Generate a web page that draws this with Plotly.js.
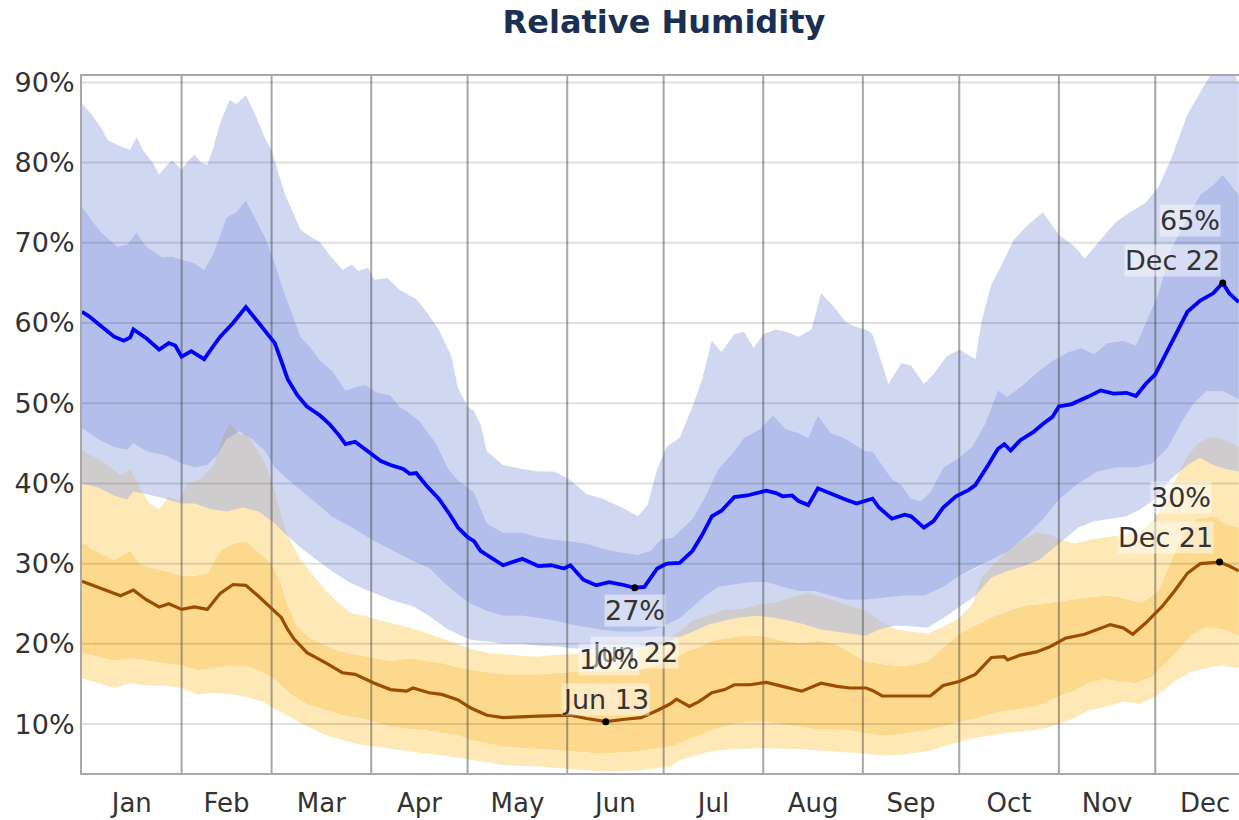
<!DOCTYPE html>
<html><head><meta charset="utf-8">
<script src="https://cdn.plot.ly/plotly-3.0.1.min.js"></script>
<style>html,body{margin:0;padding:0;overflow:hidden;background:#fff}#chart{width:1252px;height:820px}</style>
</head><body><div id="chart"></div>
<script>
// ---- data (day of year, Jan 1 = 0) ----
const monthNames = ['Jan','Feb','Mar','Apr','May','Jun','Jul','Aug','Sep','Oct','Nov','Dec'];
const monthStarts = [0,31,59,90,120,151,181,212,243,273,304,334,365];
const yTicks = [10,20,30,40,50,60,70,80,90];

const blueMedian = [[0,61.4],[2,60.9],[6,59.6],[10,58.3],[13,57.8],[15,58.2],[16,59.2],[20,58.1],[24,56.7],[27,57.5],[29,57.2],[31,55.8],[34,56.5],[38,55.5],[41,57.2],[43,58.3],[47,60.0],[51,62.0],[55,60.0],[60,57.5],[62,55.3],[64,53.0],[67,51.0],[70,49.6],[74,48.5],[77,47.4],[80,46.0],[82,44.9],[85,45.2],[88,44.3],[91,43.4],[93,42.8],[96,42.3],[100,41.8],[102,41.2],[104,41.3],[107,39.8],[111,38.1],[114,36.4],[117,34.5],[120,33.3],[122,32.8],[124,31.6],[127,30.8],[131,29.8],[137,30.6],[142,29.7],[146,29.8],[150,29.4],[152,29.8],[156,28.0],[160,27.3],[164,27.7],[168,27.4],[172,27.0],[175,27.1],[179,29.4],[182,30.0],[186,30.1],[190,31.6],[193,33.6],[196,35.9],[199,36.6],[203,38.3],[207,38.5],[213,39.1],[216,38.8],[218,38.4],[221,38.5],[223,37.8],[226,37.3],[229,39.4],[233,38.7],[237,38.1],[241,37.5],[244,37.9],[246,38.1],[248,37.0],[252,35.6],[256,36.1],[258,35.9],[262,34.5],[265,35.3],[268,37.0],[272,38.4],[276,39.2],[278,39.8],[282,42.3],[285,44.3],[287,44.9],[289,44.1],[292,45.4],[296,46.4],[299,47.4],[302,48.3],[304,49.6],[308,49.9],[313,50.8],[317,51.6],[321,51.2],[325,51.3],[328,50.9],[331,52.4],[334,53.6],[338,56.7],[341,59.2],[344,61.4],[348,62.8],[352,63.7],[355,65.0],[357,63.7],[360,62.6]];

const blueP90 = [[0,87.4],[3,86.0],[6,84.3],[8,82.8],[12,82.0],[15,81.6],[17,83.2],[19,81.5],[22,80.0],[24,78.5],[26,79.5],[28,80.3],[31,79.1],[33,80.2],[35,81.0],[37,80.0],[39,79.7],[41,82.0],[43,85.0],[46,87.8],[48,87.3],[51,88.4],[54,85.9],[57,83.0],[59,81.5],[61,79.0],[63,76.2],[66,73.5],[68,71.6],[71,70.8],[74,70.1],[77,68.5],[81,66.6],[84,67.3],[86,66.5],[89,66.9],[91,65.4],[95,65.6],[99,64.1],[102,63.4],[104,63.0],[107,61.5],[111,59.2],[115,55.8],[117,51.9],[120,49.6],[122,49.0],[124,47.4],[126,44.0],[131,42.3],[137,41.8],[142,41.5],[147,41.5],[152,40.4],[157,38.7],[162,38.1],[168,37.0],[173,35.9],[176,37.3],[179,41.8],[182,44.6],[186,45.7],[190,49.6],[193,53.0],[196,57.8],[199,56.4],[203,58.6],[206,58.9],[209,56.9],[212,58.6],[216,59.2],[219,58.9],[223,58.3],[227,59.2],[230,63.7],[234,62.0],[238,60.0],[241,59.5],[244,59.2],[246,58.6],[248,56.1],[251,52.4],[255,55.0],[258,54.7],[262,52.4],[265,53.6],[269,55.8],[273,56.7],[278,55.5],[280,60.3],[283,64.8],[286,67.1],[290,70.4],[294,72.1],[299,73.8],[301,72.7],[304,71.0],[309,69.5],[312,68.0],[317,70.4],[322,72.7],[327,74.0],[331,75.0],[335,77.0],[339,80.5],[344,86.0],[349,89.5],[352,91.5],[358,91.5],[360,90.0]];

const blueP75 = [[0,74.5],[3,72.8],[6,71.3],[11,69.5],[14,69.8],[17,71.3],[20,69.5],[25,68.2],[28,68.3],[31,67.9],[35,67.5],[38,66.6],[41,68.8],[45,73.2],[48,73.8],[51,75.3],[54,73.0],[57,70.7],[60,67.5],[63,63.7],[66,60.5],[68,58.3],[71,57.0],[74,55.4],[78,54.0],[82,51.6],[85,52.0],[88,52.3],[92,51.3],[96,51.0],[99,49.5],[101,49.0],[105,47.8],[110,45.1],[114,41.8],[117,40.4],[120,39.5],[122,38.9],[126,35.0],[131,33.9],[137,33.9],[142,33.3],[147,33.0],[152,32.8],[157,32.5],[162,31.9],[168,31.4],[173,31.1],[177,31.6],[180,33.0],[184,33.3],[190,35.6],[194,38.4],[198,41.8],[203,44.0],[206,45.7],[211,46.8],[215,48.5],[219,46.8],[223,46.3],[226,45.7],[229,48.5],[233,46.3],[237,45.7],[244,44.0],[246,44.0],[249,42.3],[252,40.6],[255,39.8],[258,38.1],[261,37.8],[264,38.9],[268,42.0],[273,43.2],[277,44.6],[281,47.4],[285,51.6],[288,50.8],[293,52.4],[298,54.1],[302,55.3],[307,56.4],[311,56.9],[315,56.1],[319,57.5],[324,57.8],[328,57.2],[331,60.0],[335,63.7],[339,69.3],[344,73.2],[348,76.0],[352,77.2],[355,78.5],[360,76.0]];

const blueP25 = [[0,46.9],[5,45.5],[10,44.5],[14,44.2],[16,45.0],[20,44.0],[26,43.5],[31,42.5],[35,42.0],[39,42.3],[42,43.5],[45,45.5],[49,46.5],[53,45.5],[57,44.0],[60,42.0],[64,40.5],[68,39.2],[73,37.5],[78,35.8],[84,34.5],[90,33.0],[96,31.8],[103,30.4],[108,29.5],[113,27.5],[118,25.8],[121,25.0],[126,24.1],[131,23.5],[137,23.5],[142,23.2],[147,22.9],[152,22.4],[157,22.1],[162,21.8],[168,21.5],[173,21.5],[178,21.8],[182,22.4],[186,23.2],[190,24.6],[194,26.0],[198,27.1],[203,27.4],[208,27.7],[213,27.7],[218,27.1],[223,26.6],[228,26.6],[233,26.0],[238,25.5],[244,25.5],[249,25.7],[255,26.0],[262,26.0],[268,27.1],[273,28.5],[278,29.4],[283,30.5],[288,31.5],[294,33.5],[299,35.5],[304,38.0],[310,40.0],[316,41.5],[322,42.0],[328,42.0],[333,42.5],[338,44.5],[342,47.5],[346,50.0],[350,51.5],[355,51.5],[360,50.5]];

const blueP10 = [[0,40.0],[5,39.5],[10,38.5],[14,38.0],[16,39.0],[20,38.7],[25,38.2],[31,37.5],[35,37.5],[40,36.8],[45,36.5],[50,37.0],[55,36.5],[60,35.0],[63,33.8],[68,32.0],[73,30.5],[78,29.0],[84,27.5],[90,26.5],[96,25.5],[103,24.7],[108,23.5],[113,22.0],[118,21.0],[121,20.5],[126,20.3],[131,20.0],[137,20.0],[142,19.8],[147,19.7],[152,19.5],[157,19.4],[162,19.3],[168,19.3],[173,19.5],[178,19.8],[182,20.2],[186,20.8],[190,21.5],[195,22.4],[200,22.9],[205,23.3],[210,23.5],[215,23.3],[220,22.9],[225,22.4],[230,21.8],[235,21.5],[240,21.2],[244,21.0],[248,21.8],[253,22.3],[258,22.2],[263,22.0],[268,23.2],[273,24.6],[278,26.0],[283,28.3],[288,29.1],[293,29.7],[298,30.5],[304,32.5],[310,34.5],[315,35.3],[320,35.6],[325,35.9],[329,36.7],[334,38.1],[339,40.6],[344,42.3],[348,43.2],[352,42.3],[356,41.8],[360,41.5]];

const orangeMedian = [[0,27.8],[6,26.9],[12,26.0],[16,26.7],[20,25.5],[24,24.6],[27,25.0],[31,24.3],[35,24.6],[39,24.3],[43,26.3],[47,27.4],[51,27.3],[55,25.9],[60,24.0],[62,23.3],[64,21.8],[66,20.6],[70,18.9],[76,17.6],[81,16.4],[85,16.2],[91,15.1],[96,14.3],[101,14.1],[103,14.5],[108,13.9],[112,13.7],[117,13.0],[121,12.0],[126,11.1],[131,10.8],[142,11.0],[152,11.1],[157,10.7],[163,10.3],[169,10.6],[174,10.8],[179,11.7],[183,12.5],[185,13.1],[189,12.2],[192,12.8],[196,13.9],[200,14.3],[203,14.9],[208,14.9],[213,15.2],[218,14.7],[224,14.1],[230,15.1],[235,14.7],[239,14.5],[244,14.5],[246,14.2],[249,13.5],[256,13.5],[264,13.5],[268,14.8],[273,15.3],[278,16.2],[283,18.3],[287,18.4],[288,18.0],[292,18.6],[297,19.0],[301,19.6],[304,20.3],[306,20.7],[312,21.2],[316,21.8],[320,22.4],[324,22.0],[327,21.2],[331,22.6],[336,24.6],[340,26.6],[344,28.8],[348,30.0],[354,30.2],[357,29.7],[360,29.1]];

const orangeP90 = [[0,44.2],[4,43.2],[8,42.3],[12,41.0],[15,41.8],[18,39.5],[21,37.5],[24,36.8],[27,38.3],[30,37.8],[33,40.0],[37,40.6],[41,42.3],[44,46.0],[46,47.5],[49,46.0],[51,46.3],[54,44.5],[57,42.5],[60,39.0],[62,36.0],[64,33.5],[68,30.5],[72,28.5],[76,26.6],[80,25.0],[84,23.8],[88,23.5],[92,23.0],[97,22.5],[102,22.0],[107,21.4],[112,20.7],[117,20.0],[121,19.4],[126,18.9],[131,18.7],[137,18.5],[142,18.4],[147,18.6],[152,18.7],[157,18.9],[162,19.0],[168,19.2],[173,19.3],[178,20.0],[182,20.7],[186,21.5],[190,22.9],[195,23.5],[200,24.3],[205,24.3],[211,24.9],[216,25.2],[220,25.7],[226,26.3],[232,25.7],[238,24.9],[244,24.1],[248,23.0],[253,21.8],[258,21.5],[263,21.3],[268,22.1],[273,23.2],[277,24.9],[280,28.3],[284,30.0],[288,31.6],[292,32.8],[297,33.9],[302,33.5],[304,33.0],[309,32.5],[314,33.0],[319,33.3],[324,33.6],[329,33.9],[334,35.6],[339,39.5],[344,43.4],[347,44.9],[351,45.8],[355,45.5],[360,44.6]];

const orangeP75 = [[0,32.6],[5,31.4],[10,30.5],[15,31.6],[18,30.0],[22,29.4],[26,29.1],[31,28.5],[35,28.5],[39,28.8],[43,31.6],[47,32.5],[51,32.8],[55,31.4],[59,30.0],[62,27.5],[64,24.9],[67,22.1],[71,20.7],[76,19.8],[81,19.0],[85,18.7],[91,18.2],[96,17.9],[102,18.2],[107,17.9],[112,17.6],[117,17.1],[122,16.7],[131,16.2],[142,16.2],[152,16.5],[162,16.5],[173,16.7],[183,17.9],[188,19.0],[192,19.6],[196,20.4],[200,20.7],[205,21.0],[212,21.0],[218,20.4],[224,20.1],[229,20.4],[234,20.1],[239,19.0],[244,17.8],[252,17.3],[257,17.3],[263,17.8],[268,19.5],[273,21.3],[278,22.3],[284,23.5],[289,24.2],[294,24.8],[299,25.0],[304,25.3],[308,25.5],[313,25.8],[318,26.0],[322,25.9],[326,25.5],[330,25.2],[335,26.6],[339,30.5],[343,33.9],[347,35.6],[352,35.9],[356,35.0],[360,34.5]];

const orangeP25 = [[0,18.9],[5,18.4],[10,17.9],[15,18.2],[20,17.9],[26,17.6],[31,17.3],[36,16.7],[41,17.0],[47,17.3],[51,17.3],[56,16.5],[60,15.6],[65,13.7],[70,12.5],[76,11.7],[81,11.1],[86,10.8],[91,10.3],[96,9.7],[102,9.4],[107,9.2],[112,8.9],[117,8.6],[121,8.0],[131,7.2],[142,6.9],[152,6.6],[162,6.3],[173,6.6],[183,7.2],[188,8.0],[192,8.6],[197,9.4],[203,10.0],[208,10.3],[213,10.3],[218,10.0],[223,9.7],[228,9.4],[233,9.4],[239,9.2],[244,8.9],[248,8.6],[252,8.6],[257,8.9],[263,9.2],[268,9.7],[273,10.3],[279,10.8],[284,11.4],[289,11.7],[294,12.0],[299,12.5],[304,13.4],[309,14.2],[313,15.1],[318,15.6],[323,15.3],[328,15.1],[333,15.9],[340,18.7],[345,21.0],[350,22.1],[355,21.8],[360,21.0]];

const orangeP10 = [[0,15.7],[5,15.1],[10,14.5],[15,15.1],[20,14.8],[26,14.8],[31,14.5],[36,13.7],[41,13.9],[47,13.7],[51,13.4],[56,12.8],[60,12.0],[65,10.8],[70,9.7],[76,8.6],[81,8.0],[86,7.5],[91,7.2],[96,6.9],[102,6.6],[107,6.3],[112,6.1],[117,5.8],[121,5.5],[131,4.9],[142,4.7],[152,4.4],[162,4.1],[173,4.2],[183,4.7],[186,5.5],[191,6.1],[196,6.6],[202,6.9],[212,7.0],[223,6.9],[233,6.6],[244,6.3],[248,6.1],[252,6.1],[257,6.3],[263,6.6],[268,7.2],[273,7.8],[278,8.3],[283,8.6],[288,8.9],[294,9.2],[299,9.4],[304,10.0],[309,10.8],[313,11.7],[319,12.2],[324,12.8],[329,12.5],[334,13.4],[340,15.3],[345,16.5],[350,17.0],[355,17.3],[360,17.0]];

// ---- helpers ----
const X_RANGE = [0, 364.1];
const Y_RANGE = [3.9, 90.8];
const FONT = 'DejaVu Sans, Verdana, sans-serif';

function band(upper, lower, color) {
  const x = upper.map(p => p[0]).concat(lower.map(p => p[0]).reverse());
  const y = upper.map(p => p[1]).concat(lower.map(p => p[1]).reverse());
  return {type:'scatter', mode:'lines', x, y, fill:'toself', fillcolor:color,
          line:{width:0, color:color}, hoverinfo:'skip', showlegend:false};
}
function line(series, color, width) {
  return {type:'scatter', mode:'lines', x:series.map(p=>p[0]), y:series.map(p=>p[1]),
          line:{color, width, shape:'linear'}, hoverinfo:'skip', showlegend:false};
}
function dateLabel(day) {
  let m = 0;
  while (m < 11 && day >= monthStarts[m+1]) m++;
  return monthNames[m] + ' ' + (day - monthStarts[m] + 1);
}
function extreme(series, fn) {
  let best = series[0];
  series.forEach(p => { if (fn(p[1], best[1])) best = p; });
  return best;
}

// ---- gridlines drawn over the bands ----
const vx = [], vy = [];
monthStarts.slice(1, 12).forEach(m => { vx.push(m, m, null); vy.push(Y_RANGE[0], Y_RANGE[1], null); });
const hx = [], hy = [];
yTicks.forEach(t => { hx.push(X_RANGE[0], X_RANGE[1], null); hy.push(t, t, null); });

const LIGHT_OR = '#fee8b6', DARK_OR = '#fdd98d';
const LIGHT_BL = 'rgba(160,176,227,0.5)', DARK_BL = 'rgba(104,128,214,0.5)';

const blueMax = extreme(blueMedian, (a,b) => a > b);
const blueMin = extreme(blueMedian, (a,b) => a < b);
const orMin = extreme(orangeMedian, (a,b) => a < b);
const orMax = extreme(orangeMedian, (a,b) => a > b);
const pts = [blueMax, blueMin, orMin, orMax];

const traces = [
  band(orangeP25, orangeP10, LIGHT_OR),
  band(orangeP75, orangeP25, DARK_OR),
  band(orangeP90, orangeP75, LIGHT_OR),
  band(blueP25, blueP10, LIGHT_BL),
  band(blueP75, blueP25, DARK_BL),
  band(blueP90, blueP75, LIGHT_BL),
  {type:'scatter', mode:'lines', x:hx, y:hy, line:{color:'rgba(0,0,0,0.12)', width:2}, hoverinfo:'skip', showlegend:false},
  {type:'scatter', mode:'lines', x:vx, y:vy, line:{color:'rgba(60,60,60,0.45)', width:2}, hoverinfo:'skip', showlegend:false},
  line(orangeMedian, '#9a4c00', 3.2),
  line(blueMedian, '#0000ff', 3.8),
  {type:'scatter', mode:'markers', x:pts.map(p=>p[0]), y:pts.map(p=>p[1]),
   marker:{color:'#000', size:7}, hoverinfo:'skip', showlegend:false}
];

const annFont = {family:FONT, size:27, color:'#333'};
const halo = 'rgba(255,255,255,0.45)';
function ann(p, text, xanchor, yanchor, xshift, yshift) {
  return {x:p[0], y:p[1], xref:'x', yref:'y', text, showarrow:false, xanchor, yanchor,
          xshift, yshift, font:annFont, bgcolor:halo, borderpad:0};
}
const annotations = [
  ann(blueMax, Math.round(blueMax[1]) + '%', 'right', 'bottom', -2, 46),
  ann(blueMax, dateLabel(blueMax[0]), 'right', 'bottom', -2, 6),
  ann(orMax, Math.round(orMax[1]) + '%', 'right', 'bottom', -8, 48),
  ann(orMax, dateLabel(orMax[0]), 'right', 'bottom', -6, 8),
  ann(blueMin, Math.round(blueMin[1]) + '%', 'center', 'top', 0, -6),
  ann(blueMin, dateLabel(blueMin[0]), 'center', 'top', 0, -48),
  ann(orMin, Math.round(orMin[1]) + '%', 'center', 'bottom', 3, 46),
  ann(orMin, dateLabel(orMin[0]), 'center', 'bottom', 0, 6)
];

const layout = {
  width:1252, height:820,
  margin:{l:82, r:0, t:76, b:47, pad:0},
  paper_bgcolor:'#fff', plot_bgcolor:'#fff',
  title:{text:'<b>Relative Humidity</b>', font:{family:FONT, size:32, color:'#1b2f52'},
         xref:'container', x:664/1252, xanchor:'center', yref:'container', y:1-22/820, yanchor:'middle'},
  xaxis:{range:X_RANGE, showgrid:false, zeroline:false, fixedrange:true,
         tickmode:'array',
         tickvals:monthStarts.slice(0,12).map((m,i)=>(m+monthStarts[i+1])/2),
         ticktext:monthNames, ticks:'', ticklabelstandoff:6,
         tickfont:{family:FONT, size:26, color:'#333'},
         showline:true, linecolor:'#a8a8a8', linewidth:2, mirror:true},
  yaxis:{range:Y_RANGE, showgrid:false, zeroline:false, fixedrange:true,
         tickmode:'array', tickvals:yTicks, ticktext:yTicks.map(t=>t+'%'), ticks:'',
         ticklabelstandoff:0,
         tickfont:{family:FONT, size:27, color:'#333'},
         showline:true, linecolor:'#a8a8a8', linewidth:2, mirror:true},
  annotations,
  hovermode:false,
  showlegend:false
};

Plotly.newPlot('chart', traces, layout, {displayModeBar:false, staticPlot:true});
</script>
</body></html>
